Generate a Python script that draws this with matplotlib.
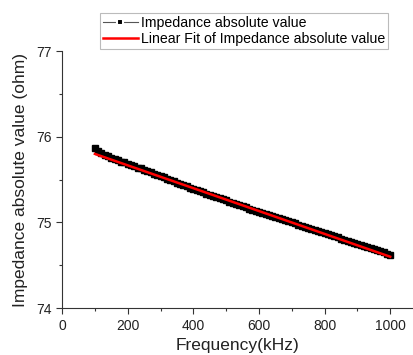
import matplotlib
matplotlib.use("Agg")
import matplotlib.pyplot as plt
from matplotlib.ticker import MultipleLocator
from matplotlib.lines import Line2D

plt.rcParams['font.family'] = ['Liberation Sans', 'DejaVu Sans']

freq = list(range(100, 1001, 10))
impedance = [
    75.87, 75.84, 75.81, 75.79, 75.77, 75.75, 75.74, 75.73, 75.71, 75.70,
    75.68, 75.67, 75.655, 75.64, 75.63, 75.615, 75.60, 75.585, 75.57, 75.555,
    75.54, 75.525, 75.51, 75.495, 75.48, 75.465, 75.45, 75.435, 75.42, 75.405,
    75.39, 75.377, 75.363, 75.35, 75.337, 75.323, 75.31, 75.297, 75.283, 75.27,
    75.257, 75.243, 75.23, 75.217, 75.203, 75.19, 75.177, 75.163, 75.15, 75.137,
    75.125, 75.112, 75.10, 75.087, 75.075, 75.062, 75.05, 75.037, 75.025, 75.012,
    75.00, 74.988, 74.975, 74.962, 74.95, 74.937, 74.925, 74.912, 74.90, 74.887,
    74.875, 74.862, 74.85, 74.837, 74.825, 74.812, 74.80, 74.787, 74.775, 74.762,
    74.75, 74.737, 74.725, 74.712, 74.70, 74.687, 74.675, 74.662, 74.65, 74.637,
    74.625,
]
fit_x = [100, 1000]
fit_y = [75.80, 74.60]

fig = plt.figure(figsize=(4.14, 3.55), dpi=100)
ax = fig.add_axes([0.150, 0.132, 0.848, 0.724])

ax.plot(freq, impedance, color='black', lw=1.2, marker='s', ms=5,
        mec='black', mfc='black', zorder=2)
ax.plot(fit_x, fit_y, color='#ff0000', lw=1.8, zorder=3)

ax.set_xlim(0, 1070)
ax.set_ylim(74, 77)
ax.xaxis.set_major_locator(MultipleLocator(200))
ax.xaxis.set_minor_locator(MultipleLocator(100))
ax.yaxis.set_major_locator(MultipleLocator(1))
ax.yaxis.set_minor_locator(MultipleLocator(0.5))

for s in ['top', 'right']:
    ax.spines[s].set_visible(False)
for s in ['left', 'bottom']:
    ax.spines[s].set_color('#333333')
    ax.spines[s].set_linewidth(0.8)

ax.tick_params(which='major', direction='out', length=4, width=0.8,
               colors='#333333', labelsize=10, labelcolor='#222222')
ax.tick_params(which='minor', direction='out', length=2.5, width=0.8,
               colors='#333333')

ax.set_xlabel('Frequency(kHz)', fontsize=12.5, color='#222222', labelpad=4)
ax.set_ylabel('Impedance absolute value (ohm)', fontsize=12.5, color='#222222',
              labelpad=6)

h1 = Line2D([], [], color='#555555', lw=0.8, marker='s', ms=4.5,
            mfc='black', mec='white', mew=1.5)
h2 = Line2D([], [], color='#ff0000', lw=1.8)
leg = ax.legend([h1, h2], ['Impedance absolute value',
                           'Linear Fit of Impedance absolute value'],
                loc='lower left', bbox_to_anchor=(0.108, 1.01), fontsize=10.2,
                frameon=True, fancybox=False, edgecolor='#aaaaaa',
                borderpad=0.2, labelspacing=0.15, handlelength=2.45,
                handletextpad=0.25, borderaxespad=0)
leg.get_frame().set_linewidth(0.8)

fig.savefig('out.png', dpi=100)
